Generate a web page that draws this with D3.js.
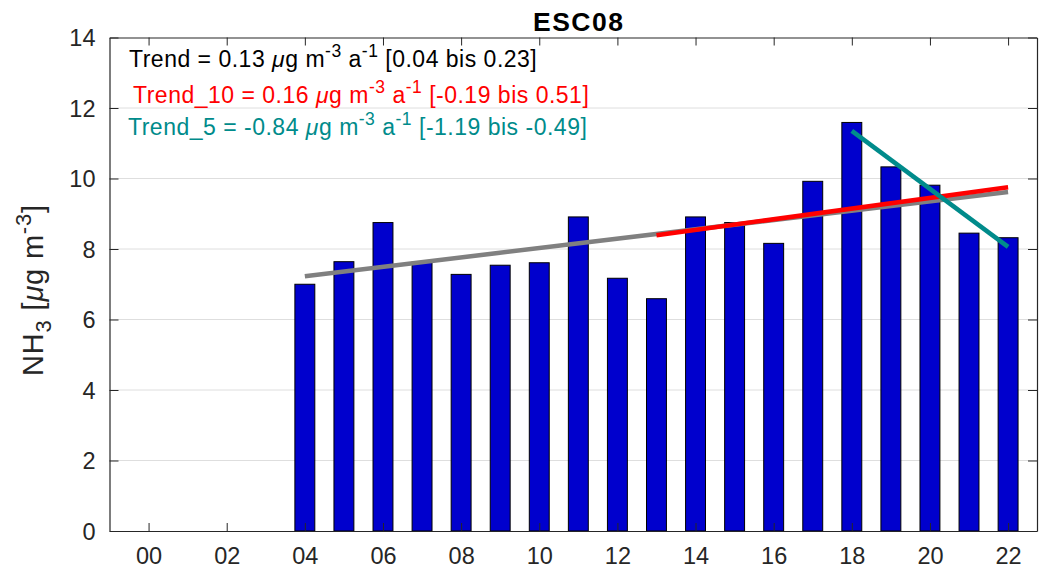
<!DOCTYPE html>
<html><head><meta charset="utf-8">
<script src="https://cdn.jsdelivr.net/npm/d3@7"></script>
<style>
body{margin:0;background:#fff}
svg{display:block}
text{font-family:Arial,"Liberation Sans",Helvetica,sans-serif}
</style>
</head><body><svg id="c" width="1040" height="574"></svg>
<script>
// ---- data ----
const years = [4,5,6,7,8,9,10,11,12,13,14,15,16,17,18,19,20,21,22];
const values = [7.0,7.64,8.75,7.63,7.28,7.54,7.61,8.91,7.17,6.59,8.91,8.75,8.16,9.92,11.59,10.33,9.81,8.45,8.32];
const xTicks = [0,2,4,6,8,10,12,14,16,18,20,22];
const xTickLabels = ["00","02","04","06","08","10","12","14","16","18","20","22"];
const yTicks = [0,2,4,6,8,10,12,14];
const trendAllYears = [4,22], trendAllValues = [7.23,9.62];
const trend10Years = [13,22], trend10Values = [8.39,9.75];
const trend5Years = [18,22], trend5Values = [11.35,8.06];
const title = "ESC08";
const legendLines = [
  {color:"#000000", main:"Trend = 0.13 ", ci:" [0.04 bis 0.23]"},
  {color:"#ff0000", main:"Trend_10 = 0.16 ", ci:" [-0.19 bis 0.51]"},
  {color:"#008b8b", main:"Trend_5 = -0.84 ", ci:" [-1.19 bis -0.49]"}
];

// ---- layout ----
const L=109.5, R=1037, T=37.5, B=531;
const x = d3.scaleLinear().domain([-1,22.74]).range([L,R]);
const y = d3.scaleLinear().domain([0,14]).range([B,T]);
const svg = d3.select("#c");
const axc = "#262626";

// grid
svg.append("g").selectAll("line").data(yTicks.slice(1,-1)).join("line")
  .attr("x1",L).attr("x2",R).attr("y1",d=>y(d)).attr("y2",d=>y(d))
  .attr("stroke","#dedede").attr("stroke-width",1);

// bars
const bw = x(0.51)-x(0);
svg.append("g").selectAll("rect").data(years).join("rect")
  .attr("x",(d)=>x(d)-bw/2).attr("width",bw)
  .attr("y",(d,i)=>y(values[i])).attr("height",(d,i)=>y(0)-y(values[i]))
  .attr("fill","#0000cd").attr("stroke","#000").attr("stroke-width",1);

// trend lines
function tline(xs,vs,color,w){
  svg.append("line").attr("x1",x(xs[0])).attr("x2",x(xs[1]))
    .attr("y1",y(vs[0])).attr("y2",y(vs[1]))
    .attr("stroke",color).attr("stroke-width",w);
}
tline(trendAllYears,trendAllValues,"#808080",4.5);
tline(trend10Years,trend10Values,"#ff0000",4.5);
tline(trend5Years,trend5Values,"#008b8b",4.5);

// axes
const xAxB = d3.axisBottom(x).tickValues(xTicks).tickFormat((d,i)=>xTickLabels[i]).tickSizeInner(-8).tickSizeOuter(0).tickPadding(16);
const gxb = svg.append("g").attr("transform",`translate(0,${B})`).call(xAxB);
const xAxT = d3.axisTop(x).tickValues(xTicks).tickFormat("").tickSizeInner(-8).tickSizeOuter(0);
const gxt = svg.append("g").attr("transform",`translate(0,${T})`).call(xAxT);
const yAxL = d3.axisLeft(y).tickValues(yTicks).tickFormat(d3.format("d")).tickSizeInner(-9).tickSizeOuter(0).tickPadding(14);
const gyl = svg.append("g").attr("transform",`translate(${L},0)`).call(yAxL);
const yAxR = d3.axisRight(y).tickValues(yTicks).tickFormat("").tickSizeInner(-9).tickSizeOuter(0);
const gyr = svg.append("g").attr("transform",`translate(${R},0)`).call(yAxR);
[gxb,gxt,gyl,gyr].forEach(g=>{
  g.select(".domain").attr("stroke",axc).attr("stroke-width",1.2);
  g.selectAll(".tick line").attr("stroke",axc).attr("stroke-width",1);
  g.selectAll(".tick text").attr("fill",axc).style("font-size","23.5px").style("font-family","Arial,'Liberation Sans',sans-serif");
});
gxb.selectAll(".tick text").attr("dy","0.71em");
gyl.selectAll(".tick text").attr("dy","0.35em");

// title
svg.append("text").attr("x",533).attr("y",31)
  .attr("textLength",90).attr("lengthAdjust","spacing")
  .style("font-size","26.5px").style("font-weight","bold").attr("fill","#000").text(title);

// legend text
const lx=[129,133,128], ly=[67,103,135];
legendLines.forEach((l,i)=>{
  const t = svg.append("text").attr("x",lx[i]).attr("y",ly[i]).attr("fill",l.color)
    .style("font-size","23px").style("letter-spacing","0.5px");
  t.append("tspan").text(l.main);
  t.append("tspan").style("font-style","italic").text("μ");
  t.append("tspan").text("g m");
  t.append("tspan").attr("dy",-10).style("font-size","17.5px").text("-3");
  t.append("tspan").attr("dy",10).text(" a");
  t.append("tspan").attr("dy",-10).style("font-size","17.5px").text("-1");
  t.append("tspan").attr("dy",10).text(l.ci);
});

// y label
const yl = svg.append("text").attr("transform","translate(43,290) rotate(-90)")
  .attr("text-anchor","middle").attr("fill",axc).style("font-size","29px").style("letter-spacing","0.8px");
yl.append("tspan").text("NH");
yl.append("tspan").attr("dy",8).style("font-size","22px").text("3");
yl.append("tspan").attr("dy",-8).text(" [");
yl.append("tspan").style("font-style","italic").text("μ");
yl.append("tspan").text("g m");
yl.append("tspan").attr("dy",-12).style("font-size","22px").text("-3");
yl.append("tspan").attr("dy",12).text("]");
</script>
</body></html>
